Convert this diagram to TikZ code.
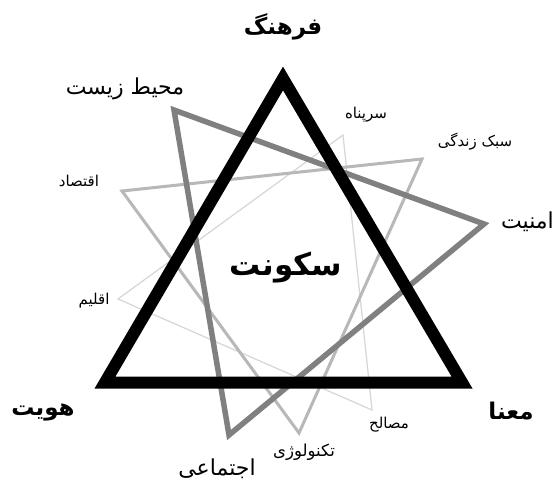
\documentclass[tikz,border=0pt]{standalone}
\usepackage{fontspec}
\TeXXeTstate=1
\newfontfamily\farsifont[Script=Arabic]{DejaVu Sans}
\begin{document}
\begin{tikzpicture}[x=1pt,y=-1pt,
  blacktri/.style={line width=12pt,black,line join=miter},
  darktri/.style={line width=5.5pt,draw=black!50,line join=miter},
  midtri/.style={line width=3pt,draw=black!28,line join=miter},
  thintri/.style={line width=1.2pt,draw=black!16,line join=miter},
  biglbl/.style={font=\farsifont\bfseries\fontsize{23}{25}\selectfont,inner sep=0pt},
  centrelbl/.style={font=\farsifont\bfseries\fontsize{31}{33}\selectfont,inner sep=0pt},
  medlbl/.style={font=\farsifont\fontsize{22}{24}\selectfont,inner sep=0pt},
  smalllbl/.style={font=\farsifont\fontsize{15}{17}\selectfont,inner sep=0pt}]
\useasboundingbox[fill=white] (0,0) rectangle (556,481);
% vertices
\coordinate (bt) at (283,78.5);
\coordinate (bl) at (105,382.5);
\coordinate (br) at (462,382.5);
\coordinate (d1) at (174,110);
\coordinate (d2) at (484,224);
\coordinate (d3) at (229,435);
\coordinate (m1) at (122,191);
\coordinate (m2) at (422,159);
\coordinate (m3) at (299,433);
\coordinate (t1) at (343,135);
\coordinate (t2) at (118,299);
\coordinate (t3) at (372,410);
% triangles
\draw[thintri] (t1) -- (t2) -- (t3) -- cycle;
\draw[midtri] (m1) -- (m2) -- (m3) -- cycle;
\draw[darktri] (d1) -- (d2) -- (d3) -- cycle;
\draw[blacktri] (bt) -- (bl) -- (br) -- cycle;
% labels
\node[biglbl] (farhang) at (283,27) {\beginR فرهنگ\endR};
\node[biglbl] (hoviyat) at (43,412) {\beginR هویت\endR};
\node[biglbl] (mana) at (511,411) {\beginR معنا\endR};
\node[centrelbl] (sokunat) at (286,268) {\beginR سکونت\endR};
\node[medlbl] (mohit) at (125,89) {\beginR محیط زیست\endR};
\node[medlbl,anchor=east] (amniyat) at (554,222) {\beginR امنیت\endR};
\node[medlbl] (ejtemai) at (217,469) {\beginR اجتماعی\endR};
\node[smalllbl] (sarpanah) at (366,115) {\beginR سرپناه\endR};
\node[smalllbl] (sabk) at (475,142) {\beginR سبک زندگی\endR};
\node[smalllbl] (eghtesad) at (79,181) {\beginR اقتصاد\endR};
\node[smalllbl] (eghlim) at (94,301) {\beginR اقلیم\endR};
\node[smalllbl] (masaleh) at (389,425) {\beginR مصالح\endR};
\node[smalllbl,font=\farsifont\fontsize{16.5}{18}\selectfont] (tech) at (304,452) {\beginR تکنولوژی\endR};
\end{tikzpicture}
\end{document}
